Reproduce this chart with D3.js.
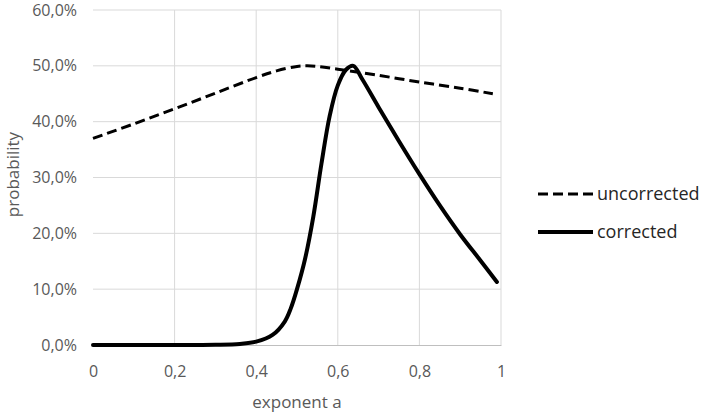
<!DOCTYPE html>
<html>
<head>
<meta charset="utf-8">
<script src="https://cdn.jsdelivr.net/npm/d3@7"></script>
<style>
  body { margin: 0; background: #fff; }
  svg { font-family: "Open Sans", sans-serif; }
</style>
</head>
<body>
<div id="chart"></div>
<script>
const width = 705;
const height = 413;

// exponent a vs probability (%)
const uncorrectedA = [0, 0.1, 0.2, 0.3, 0.4, 0.45, 0.5, 0.525, 0.55, 0.6, 0.7, 0.8, 0.9, 0.98];
const uncorrectedP = [37, 39.6, 42.3, 45.1, 47.9, 49.1, 49.9, 50, 49.9, 49.4, 48.3, 47.1, 46, 45];

const correctedA = [0, 0.1, 0.2, 0.3, 0.36, 0.4, 0.44, 0.47, 0.485, 0.5, 0.52, 0.54, 0.56, 0.58, 0.6, 0.62, 0.638, 0.66, 0.7, 0.75, 0.8, 0.85, 0.9, 0.95, 0.99];
const correctedP = [0, 0, 0, 0.05, 0.2, 0.6, 1.8, 4.2, 6.6, 10, 15.5, 23, 32.5, 41, 46.5, 49.3, 50, 47.6, 42.6, 36.5, 30.6, 25, 19.8, 15.1, 11.3];

const xTicks = [0, 0.2, 0.4, 0.6, 0.8, 1];
const yTicks = [0, 10, 20, 30, 40, 50, 60];

const seriesNames = ["uncorrected", "corrected"];

const margin = { left: 93, right: 204, top: 10, bottom: 68 };

const x = d3.scaleLinear().domain([0, 1]).range([margin.left, width - margin.right]);
const y = d3.scaleLinear().domain([0, 60]).range([height - margin.bottom, margin.top]);

const svg = d3.select("#chart")
  .append("svg")
  .attr("width", width)
  .attr("height", height);

// grid
svg.append("g")
  .selectAll("line")
  .data(xTicks.slice(1))
  .enter()
  .append("line")
  .attr("x1", d => x(d)).attr("x2", d => x(d))
  .attr("y1", y(60)).attr("y2", y(0))
  .attr("stroke", "#d9d9d9");

svg.append("g")
  .selectAll("line")
  .data(yTicks.slice(1))
  .enter()
  .append("line")
  .attr("x1", x(0)).attr("x2", x(1))
  .attr("y1", d => y(d)).attr("y2", d => y(d))
  .attr("stroke", "#d9d9d9");

// x axis
const xAxis = svg.append("g")
  .attr("transform", `translate(0,${y(0)})`)
  .call(d3.axisBottom(x).tickValues(xTicks).tickSize(0).tickPadding(21)
    .tickFormat(d => String(d).replace(".", ",")));
xAxis.select(".domain").attr("stroke", "#bfbfbf");
xAxis.selectAll("text").attr("fill", "#595959").style("font-size", "16px").style("font-family", "Open Sans");

// y axis
const yAxis = svg.append("g")
  .attr("transform", `translate(${x(0)},0)`)
  .call(d3.axisLeft(y).tickValues(yTicks).tickSize(0).tickPadding(16)
    .tickFormat(d => d.toFixed(1).replace(".", ",") + "%"));
yAxis.select(".domain").remove();
yAxis.selectAll("text").attr("fill", "#595959").style("font-size", "16px").style("font-family", "Open Sans");

// axis titles
svg.append("text")
  .attr("x", x(0.5))
  .attr("y", 408)
  .attr("text-anchor", "middle")
  .attr("fill", "#595959")
  .style("font-size", "17px")
  .text("exponent a");

svg.append("text")
  .attr("transform", `translate(19,${y(30) - 3}) rotate(-90)`)
  .attr("text-anchor", "middle")
  .attr("fill", "#595959")
  .style("font-size", "17px")
  .text("probability");

// lines
const line = d3.line()
  .x(d => x(d[0]))
  .y(d => y(d[1]))
  .curve(d3.curveCatmullRom.alpha(0.5));

svg.append("path")
  .datum(d3.zip(uncorrectedA, uncorrectedP))
  .attr("fill", "none")
  .attr("stroke", "#000")
  .attr("stroke-width", 3)
  .attr("stroke-dasharray", "10,5")
  .attr("d", line);

svg.append("path")
  .datum(d3.zip(correctedA, correctedP))
  .attr("fill", "none")
  .attr("stroke", "#000")
  .attr("stroke-width", 4)
  .attr("stroke-linejoin", "round")
  .attr("stroke-linecap", "round")
  .attr("d", line);

// legend
const legend = svg.append("g")
  .selectAll("g")
  .data(seriesNames)
  .enter()
  .append("g")
  .attr("transform", (d, i) => `translate(538,${194 + i * 38})`);

legend.append("line")
  .attr("x1", 0).attr("x2", 55)
  .attr("stroke", "#000")
  .attr("stroke-width", (d, i) => i === 0 ? 3 : 4)
  .attr("stroke-dasharray", (d, i) => i === 0 ? "10,5" : null);

legend.append("text")
  .attr("x", 59)
  .attr("dy", "0.35em")
  .attr("fill", "#262626")
  .style("font-size", "18px")
  .text(d => d);
</script>
</body>
</html>
